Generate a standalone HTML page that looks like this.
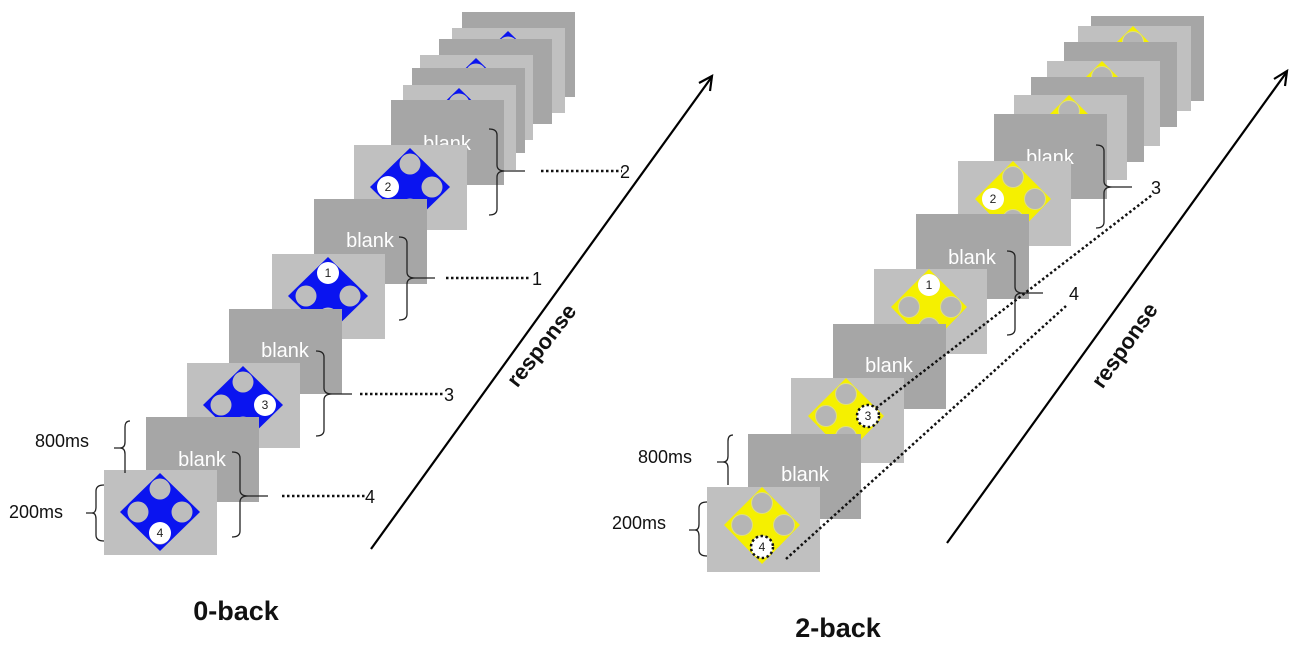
<!DOCTYPE html>
<html><head><meta charset="utf-8"><style>
html,body{margin:0;padding:0;background:#fff;}
svg{display:block;}
text{font-family:"Liberation Sans",sans-serif;}
.bl{fill:#fff;font-size:20px;text-anchor:middle;}
.lb{fill:#111;font-size:18px;}
.num{fill:#222;font-size:12px;text-anchor:middle;}
</style></head><body>
<svg width="1300" height="646" viewBox="0 0 1300 646" xmlns="http://www.w3.org/2000/svg">
<defs>
<g id="sb">
<rect width="113" height="85" fill="#c0c0c0"/>
<polygon points="56,3 96,42 56,81 16,42" fill="#0a14f0"/>
<circle cx="56" cy="19" r="10.5" fill="#bdbdbd"/>
<circle cx="34" cy="42" r="10.5" fill="#bdbdbd"/>
<circle cx="78" cy="42" r="10.5" fill="#bdbdbd"/>
<circle cx="56" cy="64" r="10.5" fill="#bdbdbd"/>
</g>
<g id="sy">
<rect width="113" height="85" fill="#c0c0c0"/>
<polygon points="55,0 93,38 55,77 17,38" fill="#f5f000"/>
<circle cx="55" cy="16" r="10.5" fill="#b5b5b5" stroke="#dede80" stroke-width="1"/>
<circle cx="35" cy="38" r="10.5" fill="#b5b5b5" stroke="#dede80" stroke-width="1"/>
<circle cx="77" cy="38" r="10.5" fill="#b5b5b5" stroke="#dede80" stroke-width="1"/>
<circle cx="55" cy="59" r="10.5" fill="#b5b5b5" stroke="#dede80" stroke-width="1"/>
</g>
<rect id="bk" width="113" height="85" fill="#a6a6a6"/>
</defs>

<!-- LEFT PANEL -->
<use href="#bk" x="462" y="12"/>
<use href="#sb" x="452" y="28"/>
<use href="#bk" x="439" y="39"/>
<use href="#sb" x="420" y="55"/>
<use href="#bk" x="412" y="68"/>
<use href="#sb" x="403" y="85"/>
<use href="#bk" x="391" y="100"/>
<text class="bl" x="447" y="150">blank</text>
<use href="#sb" x="354" y="145"/>
<circle cx="388" cy="187" r="11" fill="#fff"/><text class="num" x="388" y="191">2</text>
<use href="#bk" x="314" y="199"/>
<text class="bl" x="370" y="247">blank</text>
<use href="#sb" x="272" y="254"/>
<circle cx="328" cy="273" r="11" fill="#fff"/><text class="num" x="328" y="277">1</text>
<use href="#bk" x="229" y="309"/>
<text class="bl" x="285" y="357">blank</text>
<use href="#sb" x="187" y="363"/>
<circle cx="265" cy="405" r="11" fill="#fff"/><text class="num" x="265" y="409">3</text>
<use href="#bk" x="146" y="417"/>
<text class="bl" x="202" y="466">blank</text>
<use href="#sb" x="104" y="470"/>
<circle cx="160" cy="533" r="11" fill="#fff"/><text class="num" x="160" y="537">4</text>

<g fill="none" stroke="#222" stroke-width="1.3">
<path d="M232,452 q8,0 8,6 v32 q0,6 8,6 q-8,0 -8,6 v29 q0,6 -8,6 M248,496 h20"/>
<path d="M316,351 q8,0 8,6 v31 q0,6 8,6 q-8,0 -8,6 v30 q0,6 -8,6 M332,394 h20"/>
<path d="M399,237 q8,0 8,6 v29 q0,6 8,6 q-8,0 -8,6 v30 q0,6 -8,6 M415,278 h20"/>
<path d="M489,129 q8,0 8,6 v30 q0,6 8,6 q-8,0 -8,6 v32 q0,6 -8,6 M505,171 h20"/>
<path d="M130,421 q-5,0 -5,6 v15 q0,6 -5,6 q5,0 5,6 v19 M120,448 h-6"/>
<path d="M104,485 q-8,0 -8,6 v16 q0,6 -4,6 q4,0 4,6 v16 q0,6 8,6 M92,513 h-6"/>
</g>
<g stroke="#111" stroke-width="2.5" stroke-dasharray="2.5,2.5" fill="none">
<line x1="282" y1="496" x2="366" y2="496"/>
<line x1="360" y1="394" x2="443" y2="394"/>
<line x1="446" y1="278" x2="530" y2="278"/>
<line x1="541" y1="171" x2="622" y2="171"/>
</g>
<text class="lb" x="365" y="503">4</text>
<text class="lb" x="444" y="401">3</text>
<text class="lb" x="532" y="285">1</text>
<text class="lb" x="620" y="178">2</text>
<text class="lb" x="35" y="447">800ms</text>
<text class="lb" x="9" y="518">200ms</text>

<line x1="371" y1="549" x2="711" y2="78" stroke="#000" stroke-width="2.2"/>
<path d="M699,83 L712,76 L710,91" fill="none" stroke="#000" stroke-width="2.2"/>
<text x="0" y="0" transform="translate(541,345) rotate(-52)" style="font-size:22px;font-weight:bold;text-anchor:middle;" fill="#111" dy="8">response</text>
<text x="236" y="620" style="font-size:27px;font-weight:bold;text-anchor:middle;" fill="#111">0-back</text>

<!-- RIGHT PANEL -->
<use href="#bk" x="1091" y="16"/>
<use href="#sy" x="1078" y="26"/>
<use href="#bk" x="1064" y="42"/>
<use href="#sy" x="1047" y="61"/>
<use href="#bk" x="1031" y="77"/>
<use href="#sy" x="1014" y="95"/>
<use href="#bk" x="994" y="114"/>
<text class="bl" x="1050" y="164">blank</text>
<use href="#sy" x="958" y="161"/>
<circle cx="993" cy="199" r="11" fill="#fff"/><text class="num" x="993" y="203">2</text>
<use href="#bk" x="916" y="214"/>
<text class="bl" x="972" y="264">blank</text>
<use href="#sy" x="874" y="269"/>
<circle cx="929" cy="285" r="11" fill="#fff"/><text class="num" x="929" y="289">1</text>
<use href="#bk" x="833" y="324"/>
<text class="bl" x="889" y="372">blank</text>
<use href="#sy" x="791" y="378"/>
<circle cx="868" cy="416" r="11" fill="#fff" stroke="#111" stroke-width="2.5" stroke-dasharray="2.5,2.5"/><text class="num" x="868" y="420">3</text>
<use href="#bk" x="748" y="434"/>
<text class="bl" x="805" y="481">blank</text>
<use href="#sy" x="707" y="487"/>
<circle cx="762" cy="547" r="11" fill="#fff" stroke="#111" stroke-width="2.5" stroke-dasharray="2.5,2.5"/><text class="num" x="762" y="551">4</text>

<g fill="none" stroke="#222" stroke-width="1.3">
<path d="M1007,251 q8,0 8,6 v30 q0,6 8,6 q-8,0 -8,6 v30 q0,6 -8,6 M1023,293 h20"/>
<path d="M1096,145 q8,0 8,6 v30 q0,6 8,6 q-8,0 -8,6 v29 q0,6 -8,6 M1112,187 h20"/>
<path d="M733,435 q-5,0 -5,6 v15 q0,6 -5,6 q5,0 5,6 v17 M723,462 h-6"/>
<path d="M707,502 q-8,0 -8,6 v16 q0,6 -4,6 q4,0 4,6 v14 q0,6 8,6 M695,530 h-6"/>
</g>
<g stroke="#111" stroke-width="2.5" stroke-dasharray="2.5,2.5" fill="none">
<line x1="786" y1="559" x2="1066" y2="306"/>
<line x1="876" y1="408" x2="1152" y2="195"/>
</g>
<text class="lb" x="1069" y="300">4</text>
<text class="lb" x="1151" y="194">3</text>
<text class="lb" x="638" y="463">800ms</text>
<text class="lb" x="612" y="529">200ms</text>

<line x1="947" y1="543" x2="1286" y2="73" stroke="#000" stroke-width="2.2"/>
<path d="M1274,79 L1287,71 L1285,86" fill="none" stroke="#000" stroke-width="2.2"/>
<text x="0" y="0" transform="translate(1124,345) rotate(-55)" style="font-size:22px;font-weight:bold;text-anchor:middle;" fill="#111" dy="8">response</text>
<text x="838" y="637" style="font-size:27px;font-weight:bold;text-anchor:middle;" fill="#111">2-back</text>
</svg>
</body></html>
